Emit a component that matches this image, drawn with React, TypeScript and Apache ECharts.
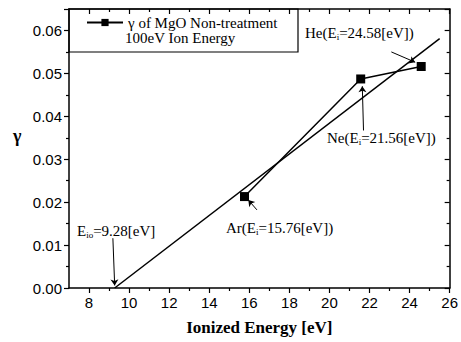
import React, { useEffect, useRef } from "react";
import * as echarts from "echarts";

// ---- data ----
const gases = ["Ar", "Ne", "He"];
const ionizedEnergy = [15.76, 21.56, 24.58];
const gammaValues = [0.0213, 0.0487, 0.0516];
const fitEnergy = [9.28, 25.5];
const fitGamma = [0, 0.0581];
const xMajorTicks = [8, 10, 12, 14, 16, 18, 20, 22, 24, 26];
const xMinorTicks = [9, 11, 13, 15, 17, 19, 21, 23, 25];
const seriesName = "γ of MgO Non-treatment";
const seriesNote = "100eV Ion Energy";
// annotation arrows: [fromX, fromY, toX, toY] in data units
const arrowE0 = [9.19, 0.0116, 9.28, 0.0006];
const arrowAr = [16.38, 0.0182, 15.95, 0.0205];
const arrowNe = [21.7, 0.0367, 21.64, 0.047];
const arrowHe = [23.09, 0.055, 24.28, 0.0526];

const SERIF = "'Liberation Serif', 'Times New Roman', serif";
const SANS = "'Liberation Sans', Arial, sans-serif";

function subText(pre: string, sub: string, post: string) {
  return `{n|${pre}}{s|${sub}}{n|${post}}`;
}
const rich = {
  n: { fontSize: 15, fontFamily: SERIF, fill: "#000", lineHeight: 16 },
  s: { fontSize: 9, fontFamily: SERIF, fill: "#000", verticalAlign: "bottom", lineHeight: 16, padding: [6, 0, 0, 0] },
};

export default function App() {
  const ref = useRef<HTMLDivElement>(null);
  useEffect(() => {
    document.body.style.margin = "0";
    const chart = echarts.init(ref.current!, null, { renderer: "svg" });
    const axisLine = { show: true, lineStyle: { color: "#000", width: 1.5 } };
    const arrow = (a: number[]) => [
      { coord: [a[0], a[1]], symbol: "none" },
      { coord: [a[2], a[3]], symbol: "arrow" },
    ];
    const option: any = {
      animation: false,
      grid: { left: 69, right: 10, top: 9, bottom: 54 },
      legend: {
        data: [seriesName],
        left: 86,
        top: 15,
        itemWidth: 36,
        itemHeight: 9,
        itemGap: 4,
        textStyle: { fontFamily: SERIF, fontSize: 15, lineHeight: 15, color: "#000" },
        padding: 0,
      },
      xAxis: [
        {
          type: "value", position: "bottom", min: 7, max: 26,
          axisLine,
          axisTick: { show: true, inside: false, length: 5, customValues: xMajorTicks, lineStyle: { color: "#000", width: 1.2 } },
          axisLabel: { customValues: xMajorTicks, margin: 7, color: "#000", fontFamily: SANS, fontSize: 15 },
          splitLine: { show: false },
          name: "Ionized Energy [eV]",
          nameLocation: "middle",
          nameGap: 31,
          nameTextStyle: { fontFamily: SERIF, fontSize: 17, fontWeight: "bold", color: "#000" },
        },
        {
          type: "value", position: "bottom", min: 7, max: 26,
          axisLine: { show: false },
          axisTick: { show: true, inside: false, length: 3, customValues: xMinorTicks, lineStyle: { color: "#000", width: 1.2 } },
          axisLabel: { show: false },
          splitLine: { show: false },
        },
        {
          type: "value", position: "top", min: 7, max: 26,
          axisLine,
          axisTick: { show: true, inside: true, length: 5, customValues: xMajorTicks, lineStyle: { color: "#000", width: 1.2 } },
          axisLabel: { show: false },
          splitLine: { show: false },
        },
        {
          type: "value", position: "top", min: 7, max: 26,
          axisLine: { show: false },
          axisTick: { show: true, inside: true, length: 3, customValues: xMinorTicks, lineStyle: { color: "#000", width: 1.2 } },
          axisLabel: { show: false },
          splitLine: { show: false },
        },
      ],
      yAxis: [
        {
          type: "value", position: "left", min: 0, max: 0.065, interval: 0.01,
          axisLine,
          axisTick: { show: true, inside: false, length: 5, lineStyle: { color: "#000", width: 1.2 } },
          minorTick: { show: true, splitNumber: 2, length: 3, lineStyle: { color: "#000", width: 1.2 } },
          axisLabel: {
            margin: 7, color: "#000", fontFamily: SANS, fontSize: 15, showMaxLabel: false,
            formatter: (v: number) => v.toFixed(2),
          },
          splitLine: { show: false },
          minorSplitLine: { show: false },
        },
        {
          type: "value", position: "right", min: 0, max: 0.065, interval: 0.01,
          axisLine,
          axisTick: { show: true, inside: true, length: 5, lineStyle: { color: "#000", width: 1.2 } },
          minorTick: { show: true, splitNumber: 2, length: 3, lineStyle: { color: "#000", width: 1.2 } },
          axisLabel: { show: false },
          splitLine: { show: false },
        },
      ],
      series: [
        {
          name: seriesName,
          type: "line",
          xAxisIndex: 0,
          yAxisIndex: 0,
          data: ionizedEnergy.map((x, i) => ({ name: gases[i], value: [x, gammaValues[i]] })),
          symbol: "rect",
          symbolSize: 9,
          itemStyle: { color: "#000" },
          lineStyle: { color: "#000", width: 1.5 },
          z: 5,
        },
        {
          name: "linear fit",
          type: "line",
          xAxisIndex: 0,
          yAxisIndex: 0,
          data: fitEnergy.map((x, i) => [x, fitGamma[i]]),
          symbol: "none",
          lineStyle: { color: "#000", width: 1.5 },
          markLine: {
            silent: true,
            symbolSize: 6,
            label: { show: false },
            lineStyle: { color: "#000", width: 1, type: "solid" },
            data: [arrow(arrowE0), arrow(arrowAr), arrow(arrowNe), arrow(arrowHe)],
          },
        },
      ],
      graphic: [
        {
          type: "rect",
          shape: { x: 69, y: 9, width: 229, height: 43 },
          style: { fill: "none", stroke: "#000", lineWidth: 1.2 },
          silent: true,
        },
        {
          type: "text", left: 125, top: 30,
          style: { text: seriesNote, font: `15px ${SERIF}`, fill: "#000" },
        },
        {
          type: "text", left: 13, top: 127,
          style: { text: "γ", font: `bold 18px ${SERIF}`, fill: "#000" },
        },
        { type: "text", x: 77, y: 223, style: { text: subText("E", "io", "=9.28[eV]"), rich } },
        { type: "text", x: 226, y: 220, style: { text: subText("Ar(E", "i", "=15.76[eV])"), rich } },
        { type: "text", x: 327, y: 130, style: { text: subText("Ne(E", "i", "=21.56[eV])"), rich } },
        { type: "text", x: 305, y: 25, style: { text: subText("He(E", "i", "=24.58[eV])"), rich } },
      ],
    };
    chart.setOption(option);
    return () => chart.dispose();
  }, []);
  return <div ref={ref} style={{ width: 461, height: 342 }} />;
}
